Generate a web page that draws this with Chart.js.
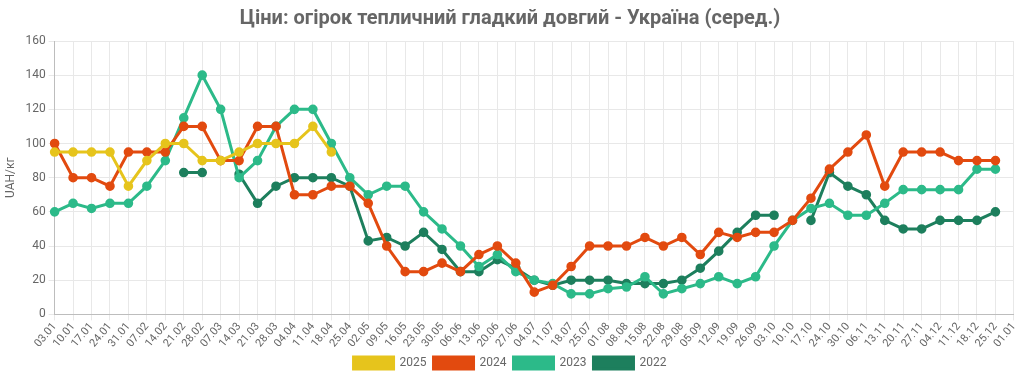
<!DOCTYPE html>
<html>
<head>
<meta charset="utf-8">
<script src="https://cdn.jsdelivr.net/npm/chart.js@4/dist/chart.umd.min.js"></script>
<style>
html,body{margin:0;padding:0;background:#fff;}
#wrap{width:1024px;height:379px;position:relative;}
</style>
</head>
<body>
<div id="wrap"><canvas id="c"></canvas></div>
<script>
const categories = ["03.01","10.01","17.01","24.01","31.01","07.02","14.02","21.02","28.02","07.03","14.03","21.03","28.03","04.04","11.04","18.04","25.04","02.05","09.05","16.05","23.05","30.05","06.06","13.06","20.06","27.06","04.07","11.07","18.07","25.07","01.08","08.08","15.08","22.08","29.08","05.09","12.09","19.09","26.09","03.10","10.10","17.10","24.10","30.10","06.11","13.11","20.11","27.11","04.12","11.12","18.12","25.12","01.01"];

const y2025 = [95,95,95,95,75,90,100,100,90,90,95,100,100,100,110,95,null,null,null,null,null,null,null,null,null,null,null,null,null,null,null,null,null,null,null,null,null,null,null,null,null,null,null,null,null,null,null,null,null,null,null,null,null];

const y2024 = [100,80,80,75,95,95,95,110,110,90,90,110,110,70,70,75,75,65,40,25,25,30,25,35,40,30,13,17,28,40,40,40,45,40,45,35,48,45,48,48,55,68,85,95,105,75,95,95,95,90,90,90,null];

const y2023 = [60,65,62,65,65,75,90,115,140,120,80,90,110,120,120,100,80,70,75,75,60,50,40,28,35,25,20,18,12,12,15,16,22,12,15,18,22,18,22,40,55,62,65,58,58,65,73,73,73,73,85,85,null];

const y2022 = [null,null,null,null,null,null,null,83,83,null,82,65,75,80,80,80,75,43,45,40,48,38,25,25,32,27,20,17,20,20,20,18,18,18,20,27,37,48,58,58,null,55,83,75,70,55,50,50,55,55,55,60,null];

const seriesNames = ["2025","2024","2023","2022"];
const seriesColors = ["#e6c41c","#e24a0f","#2cba89","#1d7f5d"];
const seriesData = [y2025, y2024, y2023, y2022];

const yTicks = [0,20,40,60,80,100,120,140,160];

const datasets = seriesNames.map((n,i)=>({
  label: n,
  data: seriesData[i],
  borderColor: seriesColors[i],
  backgroundColor: seriesColors[i],
  pointBackgroundColor: seriesColors[i],
  pointBorderColor: seriesColors[i],
  borderWidth: 3,
  pointRadius: 3.3,
  pointHoverRadius: 4,
  tension: 0,
  spanGaps: false,
  fill: false
}));

Chart.defaults.font.family = "Roboto, 'Noto Sans', sans-serif";
Chart.defaults.color = "#666";

new Chart(document.getElementById('c'), {
  type: 'line',
  data: { labels: categories, datasets },
  options: {
    responsive: true,
    maintainAspectRatio: false,
    animation: false,
    layout: { padding: { left: 0, right: 4, top: 0, bottom: 0 } },
    plugins: {
      title: {
        display: true,
        text: 'Ціни: огірок тепличний гладкий довгий - Україна (серед.)',
        font: { size: 20, weight: 'bold' },
        color: '#666',
        padding: { top: 7, bottom: 10 }
      },
      legend: {
        position: 'bottom',
        labels: { boxWidth: 40, boxHeight: 12, font: { size: 12 }, color: '#666', padding: 7 }
      },
      tooltip: { enabled: false }
    },
    scales: {
      x: {
        grid: { color: '#e8e8e8', drawTicks: true, tickLength: 6 },
        border: { color: '#bdbdbd' },
        ticks: { autoSkip: false, maxRotation: 50, minRotation: 50, font: { size: 11 }, color: '#666', padding: 0 }
      },
      y: {
        min: 0, max: 160,
        afterBuildTicks: (axis) => { axis.ticks = yTicks.map(v => ({ value: v })); },
        grid: { color: '#e8e8e8', tickLength: 6 },
        border: { color: '#bdbdbd' },
        ticks: { font: { size: 12 }, color: '#666' },
        title: { display: true, text: 'UAH/кг', font: { size: 12 }, color: '#666' }
      }
    }
  }
});
</script>
</body>
</html>
